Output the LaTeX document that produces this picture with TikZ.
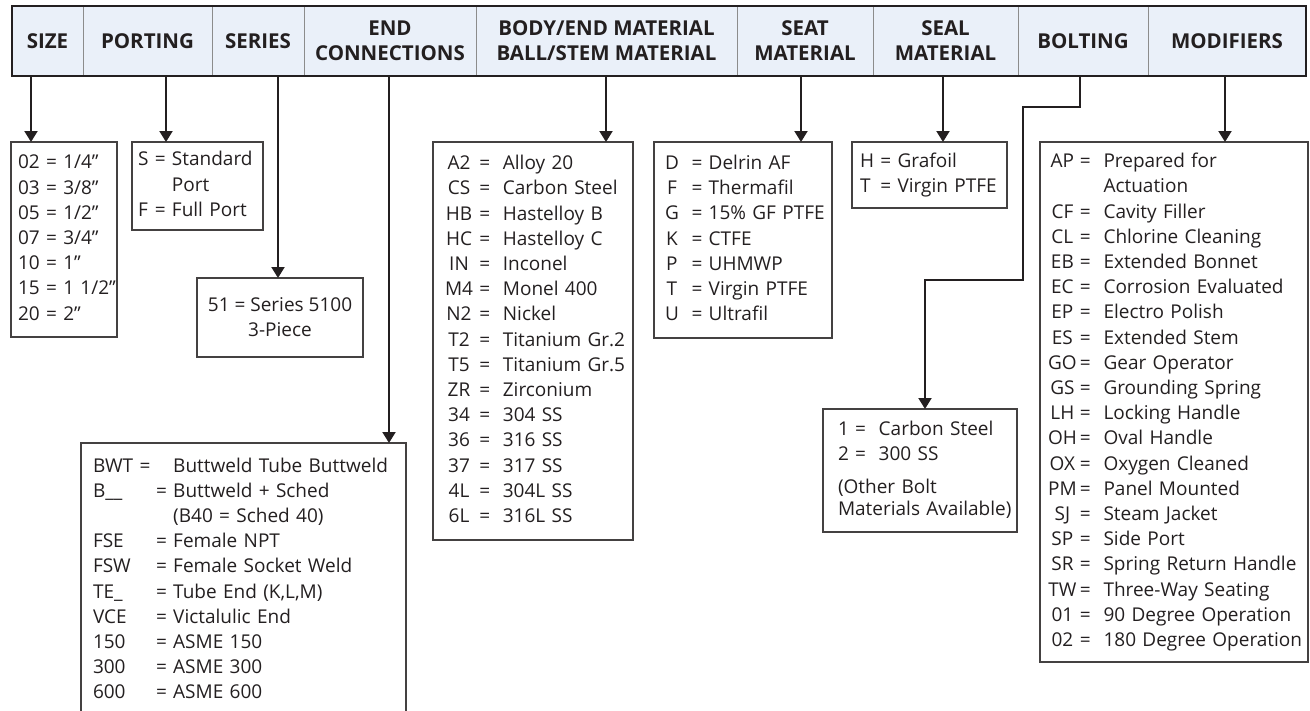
\documentclass[tikz,border=0pt]{standalone}
\usepackage{fontspec}
\usepackage{array}
\setmainfont{Open Sans}
\usetikzlibrary{
    arrows.meta,
    positioning % header cells placed one after the other
}
\definecolor{ink}{RGB}{35,31,32}
\definecolor{headblue}{RGB}{234,240,249}
\setlength{\parindent}{0pt}
\setlength{\tabcolsep}{0pt}

\begin{document}
\begin{tikzpicture}[x=1pt, y=-1pt,
    head/.style={draw=black!45, line width=1pt, fill=headblue, text=ink,
                 outer sep=0pt, inner sep=0pt, minimum height=70pt,
                 align=center, font=\fontsize{20.5}{25}\selectfont\bfseries},
    listbox/.style={draw=ink!85, line width=1.2pt, text=ink, anchor=north west,
                    outer sep=0pt, inner ysep=0pt, align=left,
                    font=\fontsize{19}{25.2}\selectfont},
    arr/.style={ink, line width=2pt, -{Triangle[width=13pt,length=11pt]}}]
    \clip (0,0) rectangle (1310,710);

    \node[head, minimum width=71pt, anchor=north west] (hsize) at (12,6) {SIZE};
    \node[head, minimum width=129pt, right=0pt of hsize]  (hport)   {PORTING};
    \node[head, minimum width=92pt,  right=0pt of hport]  (hseries) {SERIES};
    \node[head, minimum width=172pt, right=0pt of hseries](hend)    {END\\CONNECTIONS};
    \node[head, minimum width=261pt, right=0pt of hend]   (hbody)   {BODY/END MATERIAL\\BALL/STEM MATERIAL};
    \node[head, minimum width=136pt, right=0pt of hbody]  (hseat)   {SEAT\\MATERIAL};
    \node[head, minimum width=145pt, right=0pt of hseat]  (hseal)   {SEAL\\MATERIAL};
    \node[head, minimum width=130pt, right=0pt of hseal]  (hbolt)   {BOLTING};
    \node[head, minimum width=158pt, right=0pt of hbolt]  (hmod)    {MODIFIERS};

    \node[listbox, minimum height=195pt, text width=92pt, inner xsep=7pt] (bsize) at (11,142) {%
        \begin{tabular}{@{}l@{\ =\ }l@{}}
        02 & 1/4”\\ 03 & 3/8”\\ 05 & 1/2”\\ 07 & 3/4”\\ 10 & 1”\\ 15 & 1 1/2”\\ 20 & 2”
        \end{tabular}};
    \node[listbox, minimum height=88pt, text width=119pt, inner xsep=6pt] (bport) at (132,142) {%
        \begin{tabular}{@{}l@{\ }c@{\ }l@{}}
        S & = & Standard\\ & & Port\\ F & = & Full Port
        \end{tabular}};
    \node[listbox, minimum height=79pt, minimum width=166pt, inner xsep=0pt, align=center] (bseries) at (197,278)
        {51 = Series 5100\\3-Piece};
    \node[listbox, minimum height=275pt, text width=301pt, inner xsep=12pt] (bend) at (81,443) {%
        \begin{tabular}{@{}w{l}{63pt}@{}l@{\ }l@{}}
        \multicolumn{2}{@{}l@{\ }}{BWT\ =} & Buttweld Tube Buttweld\\
        B\_\_ & = & Buttweld + Sched\\
         & & (B40 = Sched 40)\\
        FSE & = & Female NPT\\
        FSW & = & Female Socket Weld\\
        TE\_ & = & Tube End (K,L,M)\\
        VCE & = & Victalulic End\\
        150 & = & ASME 150\\
        300 & = & ASME 300\\
        600 & = & ASME 600
        \end{tabular}};
    \node[listbox, minimum height=398pt, text width=176pt, inner xsep=12pt] (bbody) at (433,142) {%
        \begin{tabular}{@{}c@{\ }c@{\ \ }l@{}}
        A2 & = & Alloy 20\\ CS & = & Carbon Steel\\ HB & = & Hastelloy B\\
        HC & = & Hastelloy C\\ IN & = & Inconel\\ M4 & = & Monel 400\\
        N2 & = & Nickel\\ T2 & = & Titanium Gr.2\\ T5 & = & Titanium Gr.5\\
        ZR & = & Zirconium\\ 34 & = & 304 SS\\ 36 & = & 316 SS\\
        37 & = & 317 SS\\ 4L & = & 304L SS\\ 6L & = & 316L SS
        \end{tabular}};
    \node[listbox, minimum height=196pt, text width=156pt, inner xsep=11pt] (bseat) at (654,142) {%
        \begin{tabular}{@{}c@{\ \ }c@{\ }l@{}}
        D & = & Delrin AF\\ F & = & Thermafil\\ G & = & 15\% GF PTFE\\
        K & = & CTFE\\ P & = & UHMWP\\ T & = & Virgin PTFE\\ U & = & Ultrafil
        \end{tabular}};
    \node[listbox, minimum height=66pt, text width=139pt, inner xsep=8pt] (bseal) at (852,142) {%
        \begin{tabular}{@{}l@{\ }c@{\ }l@{}}
        H & = & Grafoil\\ T & = & Virgin PTFE
        \end{tabular}};
    \node[listbox, minimum height=123pt, text width=164pt, inner xsep=15pt] (bbolt) at (823,409) {%
        \begin{tabular}{@{}c@{\ }c@{\ \ }l@{}}
        1 & = & Carbon Steel\\ 2 & = & 300 SS\\[7pt]
        \multicolumn{3}{@{}l@{}}{(Other Bolt}\\[-3pt]
        \multicolumn{3}{@{}l@{}}{Materials Available)}
        \end{tabular}};
    \node[listbox, minimum height=520pt, text width=252pt, inner xsep=8pt] (bmod) at (1040,142) {%
        \begin{tabular}{@{}c@{\,}c@{\ \ }l@{}}
        AP & = & Prepared for\\ & & Actuation\\ CF & = & Cavity Filler\\
        CL & = & Chlorine Cleaning\\ EB & = & Extended Bonnet\\
        EC & = & Corrosion Evaluated\\ EP & = & Electro Polish\\
        ES & = & Extended Stem\\ GO & = & Gear Operator\\
        GS & = & Grounding Spring\\ LH & = & Locking Handle\\
        OH & = & Oval Handle\\ OX & = & Oxygen Cleaned\\
        PM & = & Panel Mounted\\ SJ & = & Steam Jacket\\
        SP & = & Side Port\\ SR & = & Spring Return Handle\\
        TW & = & Three-Way Seating\\ 01 & = & 90 Degree Operation\\
        02 & = & 180 Degree Operation
        \end{tabular}};

    \foreach \n/\x in {size/31, port/166, series/278, end/389, body/606,
                       seat/801, seal/943, bolt/1080, mod/1225}
        \coordinate (a\n) at (\x,0);
    \coordinate (k1) at (1023,107);
    \coordinate (k2) at (925,280);

    \foreach \n in {size, port, series, end, body, seat, seal, mod}
        \draw[arr] (a\n |- h\n.south) -- (a\n |- b\n.north);
    \draw[arr] (abolt |- hbolt.south) |- (k1) |- (k2) -- (k2 |- bbolt.north);

    \draw[ink, line width=2.5pt] (hsize.north west) rectangle (hmod.south east);
\end{tikzpicture}
\end{document}
